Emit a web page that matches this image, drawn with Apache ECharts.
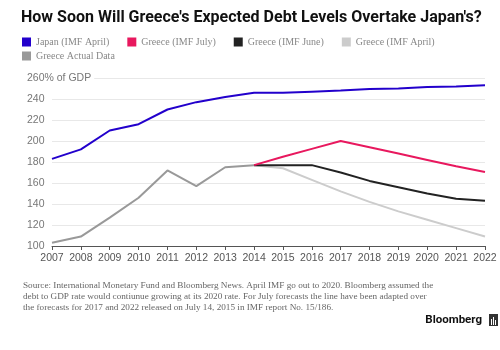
<!DOCTYPE html>
<html>
<head>
  <meta charset="utf-8">
  <script src="https://cdn.jsdelivr.net/npm/echarts@6/dist/echarts.min.js"></script>
</head>
<body style="margin:0">
  <div id="container" style="width:500px;height:350px"></div>
  <script type="text/javascript">
    var years = ['2007', '2008', '2009', '2010', '2011', '2012', '2013', '2014',
      '2015', '2016', '2017', '2018', '2019', '2020', '2021', '2022'];
    var japanApril = [183, 192, 210, 216, 230, 237, 242, 246, 246, 247, 248, 249.5, 250, 251.5, 252, 253];
    var greeceJuly = [null, null, null, null, null, null, null, 177, 185, 192.5, 200, 194, 188, 182, 176, 170.5];
    var greeceJune = [null, null, null, null, null, null, null, 177, 177, 177, 170, 162, 156, 150, 145, 143];
    var greeceApril = [null, null, null, null, null, null, null, 177, 174, 163, 152, 142, 133, 125, 117, 109];
    var greeceActual = [103, 109, 127, 146, 172, 157, 175, 177];

    var sourceLines = [
      'Source: International Monetary Fund and Bloomberg News. April IMF go out to 2020. Bloomberg assumed the',
      'debt to GDP rate would contiunue growing at its 2020 rate. For July forecasts the line have been adapted over',
      'the forecasts for 2017 and 2022 released on July 14, 2015 in IMF report No. 15/186.'
    ];

    var chart = echarts.init(document.getElementById('container'), null, { renderer: 'canvas' });

    function line(name, data, color) {
      return {
        name: name,
        type: 'line',
        data: data,
        symbol: 'none',
        lineStyle: { color: color, width: 2 },
        itemStyle: { color: color },
        animation: false
      };
    }

    var legendBase = {
      left: 17,
      itemWidth: 9,
      itemHeight: 9,
      itemGap: 18,
      icon: 'rect',
      textStyle: { fontFamily: 'Liberation Serif', fontSize: 10, color: '#888' }
    };

    var option = {
      backgroundColor: '#fff',
      title: {
        text: "How Soon Will Greece's Expected Debt Levels Overtake Japan's?",
        left: 16,
        top: 5,
        textStyle: { fontFamily: 'Roboto', fontWeight: 'bold', fontSize: 16, color: '#111' }
      },
      legend: [
        Object.assign({}, legendBase, {
          top: 32,
          data: ['Japan (IMF April)', 'Greece (IMF July)', 'Greece (IMF June)', 'Greece (IMF April)']
        }),
        Object.assign({}, legendBase, {
          top: 46,
          data: ['Greece Actual Data']
        })
      ],
      grid: { left: 52, right: 15, top: 78, bottom: 104, containLabel: false },
      xAxis: {
        type: 'category',
        data: years,
        boundaryGap: false,
        axisLine: { lineStyle: { color: '#555', width: 1 } },
        axisTick: { show: true, length: 4, alignWithLabel: true, lineStyle: { color: '#555' } },
        axisLabel: { fontFamily: 'Liberation Sans', fontSize: 10.5, color: '#555', margin: 7, interval: 0 }
      },
      yAxis: {
        type: 'value',
        min: 100,
        max: 260,
        interval: 20,
        axisLine: { show: false },
        axisTick: { show: false },
        splitLine: { lineStyle: { color: '#e8e8e8' } },
        axisLabel: {
          fontFamily: 'Liberation Sans',
          fontSize: 10.5,
          color: '#777',
          align: 'left',
          margin: 25,
          backgroundColor: '#fff',
          padding: [0, 3, 0, 0],
          formatter: function (v) { return v === 260 ? '260% of GDP' : String(v); }
        }
      },
      series: [
        line('Greece Actual Data', greeceActual, '#999999'),
        line('Greece (IMF April)', greeceApril, '#cccccc'),
        line('Greece (IMF June)', greeceJune, '#222222'),
        line('Greece (IMF July)', greeceJuly, '#e8185e'),
        line('Japan (IMF April)', japanApril, '#2200cc')
      ],
      graphic: [
        {
          type: 'text', left: 23, top: 280,
          style: {
            text: sourceLines.join('\n'),
            font: '9.2px "Liberation Serif"',
            fill: '#666',
            lineHeight: 11.2
          }
        },
        {
          type: 'text', right: 18, top: 314,
          style: { text: 'Bloomberg', font: 'bold 11.5px Roboto', fill: '#111' }
        },
        {
          type: 'group', left: 489, top: 314,
          children: [
            { type: 'rect', shape: { x: 0, y: 0, width: 9, height: 12 }, style: { fill: '#333' } },
            { type: 'rect', shape: { x: 2, y: 5, width: 1, height: 6 }, style: { fill: '#fff' } },
            { type: 'rect', shape: { x: 4, y: 3, width: 1, height: 8 }, style: { fill: '#fff' } },
            { type: 'rect', shape: { x: 6, y: 6, width: 1, height: 5 }, style: { fill: '#fff' } }
          ]
        }
      ]
    };

    chart.setOption(option);
  </script>
</body>
</html>
